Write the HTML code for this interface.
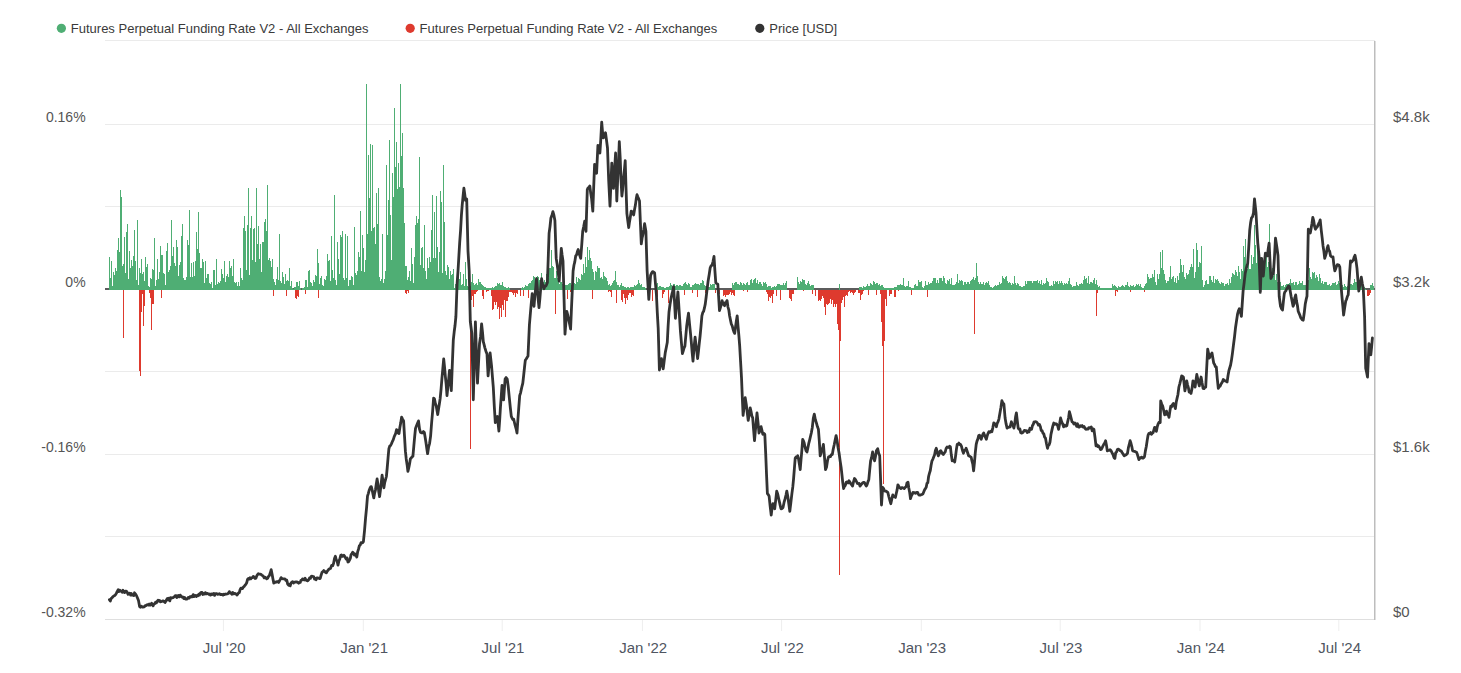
<!DOCTYPE html>
<html><head><meta charset="utf-8"><style>
html,body{margin:0;padding:0;background:#fff;width:1461px;height:673px;overflow:hidden}
svg{display:block}
</style></head><body>
<svg width="1461" height="673" viewBox="0 0 1461 673"><g fill="#ebebeb"><rect x="105" y="40" width="1270" height="1"/><rect x="105" y="124" width="1270" height="1"/><rect x="105" y="206" width="1270" height="1"/><rect x="105" y="371" width="1270" height="1"/><rect x="105" y="454" width="1270" height="1"/><rect x="105" y="536" width="1270" height="1"/><rect x="105" y="619" width="1270" height="1" fill="#dfdfdf"/></g><g fill="#eeeeee"><rect x="222.9" y="620" width="1" height="11"/><rect x="362.8" y="620" width="1" height="11"/><rect x="501.7" y="620" width="1" height="11"/><rect x="641.9" y="620" width="1" height="11"/><rect x="781.1" y="620" width="1" height="11"/><rect x="920.8" y="620" width="1" height="11"/><rect x="1059.7" y="620" width="1" height="11"/><rect x="1199.5" y="620" width="1" height="11"/><rect x="1338.3" y="620" width="1" height="11"/></g><rect x="1374" y="41" width="1.5" height="579" fill="#bdbdbd"/><rect x="105" y="288" width="1270" height="2" fill="#5c5c5c"/><path shape-rendering="crispEdges" fill="#4fae74" d="M109 257h1V290h-1zM110 278h1V290h-1zM111 280h1V290h-1zM111 261h1V290h-1zM112 286h1V290h-1zM113 272h1V290h-1zM114 284h1V290h-1zM114 275h1V290h-1zM115 268h1V290h-1zM116 271h1V290h-1zM117 250h1V290h-1zM118 238h1V290h-1zM118 263h1V290h-1zM119 252h1V290h-1zM120 190h1V290h-1zM121 202h1V290h-1zM121 197h1V290h-1zM122 266h1V290h-1zM123 264h1V290h-1zM124 274h1V290h-1zM124 237h1V290h-1zM125 273h1V290h-1zM126 232h1V290h-1zM127 280h1V290h-1zM127 224h1V290h-1zM128 279h1V290h-1zM129 251h1V290h-1zM130 268h1V290h-1zM131 260h1V290h-1zM131 267h1V290h-1zM132 266h1V290h-1zM133 256h1V290h-1zM134 230h1V290h-1zM134 262h1V290h-1zM135 261h1V290h-1zM136 280h1V290h-1zM137 220h1V290h-1zM137 222h1V290h-1zM138 285h1V290h-1zM139 268h1V290h-1zM140 273h1V290h-1zM140 282h1V290h-1zM141 259h1V290h-1zM142 274h1V290h-1zM143 272h1V290h-1zM143 276h1V290h-1zM144 281h1V290h-1zM145 257h1V290h-1zM146 267h1V290h-1zM147 276h1V290h-1zM147 264h1V290h-1zM148 286h1V290h-1zM149 287h1V290h-1zM150 278h1V290h-1zM150 278h1V290h-1zM151 279h1V290h-1zM152 269h1V290h-1zM153 270h1V290h-1zM153 280h1V290h-1zM154 238h1V290h-1zM155 286h1V290h-1zM156 280h1V290h-1zM156 285h1V290h-1zM157 259h1V290h-1zM158 279h1V290h-1zM159 272h1V290h-1zM160 246h1V290h-1zM160 258h1V290h-1zM161 255h1V290h-1zM162 255h1V290h-1zM163 273h1V290h-1zM163 280h1V290h-1zM164 274h1V290h-1zM165 285h1V290h-1zM166 251h1V290h-1zM166 255h1V290h-1zM167 243h1V290h-1zM168 272h1V290h-1zM169 270h1V290h-1zM169 274h1V290h-1zM170 266h1V290h-1zM171 220h1V290h-1zM172 256h1V290h-1zM173 247h1V290h-1zM173 262h1V290h-1zM174 263h1V290h-1zM175 266h1V290h-1zM176 240h1V290h-1zM176 268h1V290h-1zM177 247h1V290h-1zM178 276h1V290h-1zM179 265h1V290h-1zM179 268h1V290h-1zM180 262h1V290h-1zM181 236h1V290h-1zM182 278h1V290h-1zM182 224h1V290h-1zM183 278h1V290h-1zM184 280h1V290h-1zM185 280h1V290h-1zM185 286h1V290h-1zM186 277h1V290h-1zM187 240h1V290h-1zM188 245h1V290h-1zM189 267h1V290h-1zM189 210h1V290h-1zM190 277h1V290h-1zM191 263h1V290h-1zM192 285h1V290h-1zM192 277h1V290h-1zM193 262h1V290h-1zM194 276h1V290h-1zM195 265h1V290h-1zM195 261h1V290h-1zM196 232h1V290h-1zM197 249h1V290h-1zM198 212h1V290h-1zM198 261h1V290h-1zM199 253h1V290h-1zM200 268h1V290h-1zM201 268h1V290h-1zM202 259h1V290h-1zM202 267h1V290h-1zM203 262h1V290h-1zM204 283h1V290h-1zM205 261h1V290h-1zM205 276h1V290h-1zM206 278h1V290h-1zM207 274h1V290h-1zM208 281h1V290h-1zM208 274h1V290h-1zM209 283h1V290h-1zM210 284h1V290h-1zM211 282h1V290h-1zM211 283h1V290h-1zM212 288h1V290h-1zM213 270h1V290h-1zM214 270h1V290h-1zM215 285h1V290h-1zM215 286h1V290h-1zM216 259h1V290h-1zM217 284h1V290h-1zM218 286h1V290h-1zM218 282h1V290h-1zM219 283h1V290h-1zM220 281h1V290h-1zM221 285h1V290h-1zM221 269h1V290h-1zM222 274h1V290h-1zM223 278h1V290h-1zM224 261h1V290h-1zM224 281h1V290h-1zM225 282h1V290h-1zM226 276h1V290h-1zM227 274h1V290h-1zM227 279h1V290h-1zM228 277h1V290h-1zM229 261h1V290h-1zM230 268h1V290h-1zM231 266h1V290h-1zM231 282h1V290h-1zM232 276h1V290h-1zM233 259h1V290h-1zM234 286h1V290h-1zM234 282h1V290h-1zM235 283h1V290h-1zM236 282h1V290h-1zM237 286h1V290h-1zM237 287h1V290h-1zM238 282h1V290h-1zM239 286h1V290h-1zM240 281h1V290h-1zM240 268h1V290h-1zM241 278h1V290h-1zM242 280h1V290h-1zM243 228h1V290h-1zM244 231h1V290h-1zM244 216h1V290h-1zM245 231h1V290h-1zM246 270h1V290h-1zM247 228h1V290h-1zM247 225h1V290h-1zM248 188h1V290h-1zM249 275h1V290h-1zM250 244h1V290h-1zM250 228h1V290h-1zM251 216h1V290h-1zM252 260h1V290h-1zM253 229h1V290h-1zM253 233h1V290h-1zM254 228h1V290h-1zM255 262h1V290h-1zM256 188h1V290h-1zM256 247h1V290h-1zM257 244h1V290h-1zM258 226h1V290h-1zM259 259h1V290h-1zM260 244h1V290h-1zM260 248h1V290h-1zM261 272h1V290h-1zM262 242h1V290h-1zM263 264h1V290h-1zM263 242h1V290h-1zM264 222h1V290h-1zM265 219h1V290h-1zM266 276h1V290h-1zM266 231h1V290h-1zM267 185h1V290h-1zM268 260h1V290h-1zM269 258h1V290h-1zM269 265h1V290h-1zM270 261h1V290h-1zM271 267h1V290h-1zM272 259h1V290h-1zM273 279h1V290h-1zM273 280h1V290h-1zM274 282h1V290h-1zM275 285h1V290h-1zM276 280h1V290h-1zM276 279h1V290h-1zM277 267h1V290h-1zM278 280h1V290h-1zM279 234h1V290h-1zM279 287h1V290h-1zM280 281h1V290h-1zM281 283h1V290h-1zM282 281h1V290h-1zM282 272h1V290h-1zM283 277h1V290h-1zM284 284h1V290h-1zM285 274h1V290h-1zM286 281h1V290h-1zM286 285h1V290h-1zM287 280h1V290h-1zM288 281h1V290h-1zM289 268h1V290h-1zM289 282h1V290h-1zM290 286h1V290h-1zM291 281h1V290h-1zM292 288h1V290h-1zM292 288h1V290h-1zM293 289h1V290h-1zM294 287h1V290h-1zM295 288h1V290h-1zM295 287h1V290h-1zM296 282h1V290h-1zM297 282h1V290h-1zM298 286h1V290h-1zM298 288h1V290h-1zM299 281h1V290h-1zM300 288h1V290h-1zM302 288h1V290h-1zM302 288h1V290h-1zM303 288h1V290h-1zM304 287h1V290h-1zM305 288h1V290h-1zM305 280h1V290h-1zM306 280h1V290h-1zM307 287h1V290h-1zM308 271h1V290h-1zM308 280h1V290h-1zM309 270h1V290h-1zM310 282h1V290h-1zM311 284h1V290h-1zM311 283h1V290h-1zM312 286h1V290h-1zM313 280h1V290h-1zM314 282h1V290h-1zM315 287h1V290h-1zM315 275h1V290h-1zM316 276h1V290h-1zM317 249h1V290h-1zM318 285h1V290h-1zM318 263h1V290h-1zM319 284h1V290h-1zM320 278h1V290h-1zM321 276h1V290h-1zM321 288h1V290h-1zM322 285h1V290h-1zM323 286h1V290h-1zM324 287h1V290h-1zM324 279h1V290h-1zM325 280h1V290h-1zM326 276h1V290h-1zM327 254h1V290h-1zM327 269h1V290h-1zM328 261h1V290h-1zM329 260h1V290h-1zM330 281h1V290h-1zM331 236h1V290h-1zM331 268h1V290h-1zM332 270h1V290h-1zM333 278h1V290h-1zM334 195h1V290h-1zM334 277h1V290h-1zM335 280h1V290h-1zM336 285h1V290h-1zM337 242h1V290h-1zM337 258h1V290h-1zM338 259h1V290h-1zM339 274h1V290h-1zM340 258h1V290h-1zM340 235h1V290h-1zM341 237h1V290h-1zM342 231h1V290h-1zM343 278h1V290h-1zM344 280h1V290h-1zM344 282h1V290h-1zM345 234h1V290h-1zM346 278h1V290h-1zM347 277h1V290h-1zM347 236h1V290h-1zM348 286h1V290h-1zM349 280h1V290h-1zM350 280h1V290h-1zM350 282h1V290h-1zM351 276h1V290h-1zM352 277h1V290h-1zM353 285h1V290h-1zM353 285h1V290h-1zM354 227h1V290h-1zM355 273h1V290h-1zM356 275h1V290h-1zM357 271h1V290h-1zM357 282h1V290h-1zM358 252h1V290h-1zM359 257h1V290h-1zM360 281h1V290h-1zM360 211h1V290h-1zM361 271h1V290h-1zM362 235h1V290h-1zM363 248h1V290h-1zM363 271h1V290h-1zM364 272h1V290h-1zM365 260h1V290h-1zM366 84h1V290h-1zM366 192h1V290h-1zM367 234h1V290h-1zM368 155h1V290h-1zM369 199h1V290h-1zM369 198h1V290h-1zM370 144h1V290h-1zM371 231h1V290h-1zM372 145h1V290h-1zM373 236h1V290h-1zM373 228h1V290h-1zM374 227h1V290h-1zM375 244h1V290h-1zM376 193h1V290h-1zM376 221h1V290h-1zM377 224h1V290h-1zM378 188h1V290h-1zM379 277h1V290h-1zM379 281h1V290h-1zM380 281h1V290h-1zM381 279h1V290h-1zM382 283h1V290h-1zM382 234h1V290h-1zM383 283h1V290h-1zM384 279h1V290h-1zM385 271h1V290h-1zM386 165h1V290h-1zM386 224h1V290h-1zM387 235h1V290h-1zM388 200h1V290h-1zM389 195h1V290h-1zM389 140h1V290h-1zM390 215h1V290h-1zM391 260h1V290h-1zM392 173h1V290h-1zM392 206h1V290h-1zM393 197h1V290h-1zM394 108h1V290h-1zM395 190h1V290h-1zM395 167h1V290h-1zM396 142h1V290h-1zM397 189h1V290h-1zM398 163h1V290h-1zM399 203h1V290h-1zM399 187h1V290h-1zM400 84h1V290h-1zM401 156h1V290h-1zM402 133h1V290h-1zM402 210h1V290h-1zM403 188h1V290h-1zM404 223h1V290h-1zM405 266h1V290h-1zM405 272h1V290h-1zM406 266h1V290h-1zM407 280h1V290h-1zM408 277h1V290h-1zM408 285h1V290h-1zM409 271h1V290h-1zM410 281h1V290h-1zM411 278h1V290h-1zM411 248h1V290h-1zM412 264h1V290h-1zM413 283h1V290h-1zM414 257h1V290h-1zM415 275h1V290h-1zM415 225h1V290h-1zM416 216h1V290h-1zM417 223h1V290h-1zM418 219h1V290h-1zM418 259h1V290h-1zM419 157h1V290h-1zM420 265h1V290h-1zM421 248h1V290h-1zM421 254h1V290h-1zM422 247h1V290h-1zM423 268h1V290h-1zM424 225h1V290h-1zM424 278h1V290h-1zM425 271h1V290h-1zM426 279h1V290h-1zM427 258h1V290h-1zM428 276h1V290h-1zM428 268h1V290h-1zM429 257h1V290h-1zM430 262h1V290h-1zM431 230h1V290h-1zM431 230h1V290h-1zM432 195h1V290h-1zM433 258h1V290h-1zM434 212h1V290h-1zM434 217h1V290h-1zM435 258h1V290h-1zM436 196h1V290h-1zM437 258h1V290h-1zM437 247h1V290h-1zM438 272h1V290h-1zM439 252h1V290h-1zM440 191h1V290h-1zM440 257h1V290h-1zM441 202h1V290h-1zM442 273h1V290h-1zM443 165h1V290h-1zM444 222h1V290h-1zM444 284h1V290h-1zM445 271h1V290h-1zM446 275h1V290h-1zM447 265h1V290h-1zM447 284h1V290h-1zM448 267h1V290h-1zM449 279h1V290h-1zM450 275h1V290h-1zM450 271h1V290h-1zM451 275h1V290h-1zM452 274h1V290h-1zM453 283h1V290h-1zM453 269h1V290h-1zM454 288h1V290h-1zM455 284h1V290h-1zM456 283h1V290h-1zM457 287h1V290h-1zM457 288h1V290h-1zM458 276h1V290h-1zM459 279h1V290h-1zM460 283h1V290h-1zM460 272h1V290h-1zM461 285h1V290h-1zM462 284h1V290h-1zM463 274h1V290h-1zM463 278h1V290h-1zM464 286h1V290h-1zM465 262h1V290h-1zM466 283h1V290h-1zM466 279h1V290h-1zM467 286h1V290h-1zM468 287h1V290h-1zM469 287h1V290h-1zM470 286h1V290h-1zM470 286h1V290h-1zM471 282h1V290h-1zM472 274h1V290h-1zM473 284h1V290h-1zM473 283h1V290h-1zM474 285h1V290h-1zM475 284h1V290h-1zM476 284h1V290h-1zM476 283h1V290h-1zM477 285h1V290h-1zM478 279h1V290h-1zM479 282h1V290h-1zM479 283h1V290h-1zM480 282h1V290h-1zM481 284h1V290h-1zM482 285h1V290h-1zM482 287h1V290h-1zM483 286h1V290h-1zM484 287h1V290h-1zM485 287h1V290h-1zM486 288h1V290h-1zM486 288h1V290h-1zM487 288h1V290h-1zM488 288h1V290h-1zM489 288h1V290h-1zM489 288h1V290h-1zM490 288h1V290h-1zM491 288h1V290h-1zM492 288h1V290h-1zM492 287h1V290h-1zM493 288h1V290h-1zM494 287h1V290h-1zM495 286h1V290h-1zM495 287h1V290h-1zM496 286h1V290h-1zM497 283h1V290h-1zM498 284h1V290h-1zM499 283h1V290h-1zM499 285h1V290h-1zM500 285h1V290h-1zM501 285h1V290h-1zM502 282h1V290h-1zM502 285h1V290h-1zM503 286h1V290h-1zM504 287h1V290h-1zM505 287h1V290h-1zM505 287h1V290h-1zM506 288h1V290h-1zM507 288h1V290h-1zM508 287h1V290h-1zM508 288h1V290h-1zM509 288h1V290h-1zM521 288h1V290h-1zM522 287h1V290h-1zM523 288h1V290h-1zM524 288h1V290h-1zM524 287h1V290h-1zM525 285h1V290h-1zM526 286h1V290h-1zM527 286h1V290h-1zM528 284h1V290h-1zM528 284h1V290h-1zM529 283h1V290h-1zM530 283h1V290h-1zM531 283h1V290h-1zM531 281h1V290h-1zM532 280h1V290h-1zM533 276h1V290h-1zM534 278h1V290h-1zM534 277h1V290h-1zM535 282h1V290h-1zM536 277h1V290h-1zM537 279h1V290h-1zM537 276h1V290h-1zM538 277h1V290h-1zM539 280h1V290h-1zM540 282h1V290h-1zM541 273h1V290h-1zM541 278h1V290h-1zM542 283h1V290h-1zM543 282h1V290h-1zM544 280h1V290h-1zM544 283h1V290h-1zM545 282h1V290h-1zM546 274h1V290h-1zM547 275h1V290h-1zM547 272h1V290h-1zM548 278h1V290h-1zM549 268h1V290h-1zM550 268h1V290h-1zM550 271h1V290h-1zM551 250h1V290h-1zM552 266h1V290h-1zM553 271h1V290h-1zM553 267h1V290h-1zM554 278h1V290h-1zM555 278h1V290h-1zM556 271h1V290h-1zM557 282h1V290h-1zM557 278h1V290h-1zM558 282h1V290h-1zM559 284h1V290h-1zM560 282h1V290h-1zM560 282h1V290h-1zM561 282h1V290h-1zM562 284h1V290h-1zM563 285h1V290h-1zM563 285h1V290h-1zM564 286h1V290h-1zM565 285h1V290h-1zM566 286h1V290h-1zM566 285h1V290h-1zM567 285h1V290h-1zM568 284h1V290h-1zM569 283h1V290h-1zM570 283h1V290h-1zM570 283h1V290h-1zM571 285h1V290h-1zM572 285h1V290h-1zM573 284h1V290h-1zM573 285h1V290h-1zM574 283h1V290h-1zM575 284h1V290h-1zM576 285h1V290h-1zM576 277h1V290h-1zM577 282h1V290h-1zM578 278h1V290h-1zM579 279h1V290h-1zM579 283h1V290h-1zM580 280h1V290h-1zM581 274h1V290h-1zM582 275h1V290h-1zM583 265h1V290h-1zM583 264h1V290h-1zM584 273h1V290h-1zM585 257h1V290h-1zM586 267h1V290h-1zM586 267h1V290h-1zM587 247h1V290h-1zM588 260h1V290h-1zM589 250h1V290h-1zM589 265h1V290h-1zM590 258h1V290h-1zM591 261h1V290h-1zM592 269h1V290h-1zM592 271h1V290h-1zM593 272h1V290h-1zM594 280h1V290h-1zM595 280h1V290h-1zM595 271h1V290h-1zM596 272h1V290h-1zM597 266h1V290h-1zM598 268h1V290h-1zM599 268h1V290h-1zM599 278h1V290h-1zM600 278h1V290h-1zM601 277h1V290h-1zM602 283h1V290h-1zM602 279h1V290h-1zM603 272h1V290h-1zM604 276h1V290h-1zM605 277h1V290h-1zM605 278h1V290h-1zM606 278h1V290h-1zM607 281h1V290h-1zM608 285h1V290h-1zM608 286h1V290h-1zM609 284h1V290h-1zM610 286h1V290h-1zM611 285h1V290h-1zM612 284h1V290h-1zM612 283h1V290h-1zM613 281h1V290h-1zM614 280h1V290h-1zM615 271h1V290h-1zM615 281h1V290h-1zM616 282h1V290h-1zM617 285h1V290h-1zM618 285h1V290h-1zM618 286h1V290h-1zM619 287h1V290h-1zM620 285h1V290h-1zM621 283h1V290h-1zM621 287h1V290h-1zM622 286h1V290h-1zM623 286h1V290h-1zM624 287h1V290h-1zM625 288h1V290h-1zM625 287h1V290h-1zM626 288h1V290h-1zM627 287h1V290h-1zM628 287h1V290h-1zM628 288h1V290h-1zM629 288h1V290h-1zM630 287h1V290h-1zM631 287h1V290h-1zM631 287h1V290h-1zM632 287h1V290h-1zM633 287h1V290h-1zM634 288h1V290h-1zM634 285h1V290h-1zM635 286h1V290h-1zM636 285h1V290h-1zM637 284h1V290h-1zM637 284h1V290h-1zM638 280h1V290h-1zM639 283h1V290h-1zM640 285h1V290h-1zM641 284h1V290h-1zM641 287h1V290h-1zM642 287h1V290h-1zM643 287h1V290h-1zM644 287h1V290h-1zM644 288h1V290h-1zM645 288h1V290h-1zM657 283h1V290h-1zM658 287h1V290h-1zM659 286h1V290h-1zM660 286h1V290h-1zM660 287h1V290h-1zM661 287h1V290h-1zM662 287h1V290h-1zM663 287h1V290h-1zM663 288h1V290h-1zM664 288h1V290h-1zM665 288h1V290h-1zM666 288h1V290h-1zM666 287h1V290h-1zM667 287h1V290h-1zM668 287h1V290h-1zM669 286h1V290h-1zM670 283h1V290h-1zM670 284h1V290h-1zM671 285h1V290h-1zM672 286h1V290h-1zM673 284h1V290h-1zM673 286h1V290h-1zM674 284h1V290h-1zM675 286h1V290h-1zM676 286h1V290h-1zM676 285h1V290h-1zM677 285h1V290h-1zM678 286h1V290h-1zM679 285h1V290h-1zM679 286h1V290h-1zM680 285h1V290h-1zM681 286h1V290h-1zM682 286h1V290h-1zM683 285h1V290h-1zM683 284h1V290h-1zM684 283h1V290h-1zM685 282h1V290h-1zM686 285h1V290h-1zM686 284h1V290h-1zM687 285h1V290h-1zM688 283h1V290h-1zM689 284h1V290h-1zM689 287h1V290h-1zM690 287h1V290h-1zM691 287h1V290h-1zM692 285h1V290h-1zM692 286h1V290h-1zM693 285h1V290h-1zM694 284h1V290h-1zM695 283h1V290h-1zM696 284h1V290h-1zM696 284h1V290h-1zM697 284h1V290h-1zM698 284h1V290h-1zM699 285h1V290h-1zM699 286h1V290h-1zM700 283h1V290h-1zM701 283h1V290h-1zM702 286h1V290h-1zM702 280h1V290h-1zM703 281h1V290h-1zM704 285h1V290h-1zM705 286h1V290h-1zM705 287h1V290h-1zM706 287h1V290h-1zM707 287h1V290h-1zM708 287h1V290h-1zM708 287h1V290h-1zM709 287h1V290h-1zM710 284h1V290h-1zM711 285h1V290h-1zM712 284h1V290h-1zM712 286h1V290h-1zM713 284h1V290h-1zM714 284h1V290h-1zM732 283h1V290h-1zM733 285h1V290h-1zM734 285h1V290h-1zM734 283h1V290h-1zM735 282h1V290h-1zM736 282h1V290h-1zM737 284h1V290h-1zM737 286h1V290h-1zM738 284h1V290h-1zM739 285h1V290h-1zM740 282h1V290h-1zM741 283h1V290h-1zM741 286h1V290h-1zM742 285h1V290h-1zM743 283h1V290h-1zM744 284h1V290h-1zM744 286h1V290h-1zM745 285h1V290h-1zM746 283h1V290h-1zM747 283h1V290h-1zM747 282h1V290h-1zM748 285h1V290h-1zM749 285h1V290h-1zM750 285h1V290h-1zM750 280h1V290h-1zM751 279h1V290h-1zM752 283h1V290h-1zM753 280h1V290h-1zM754 279h1V290h-1zM754 282h1V290h-1zM755 278h1V290h-1zM756 283h1V290h-1zM757 280h1V290h-1zM757 282h1V290h-1zM758 284h1V290h-1zM759 282h1V290h-1zM760 282h1V290h-1zM760 284h1V290h-1zM761 284h1V290h-1zM762 286h1V290h-1zM763 282h1V290h-1zM763 282h1V290h-1zM764 283h1V290h-1zM765 282h1V290h-1zM766 284h1V290h-1zM767 287h1V290h-1zM767 287h1V290h-1zM768 286h1V290h-1zM769 286h1V290h-1zM770 286h1V290h-1zM770 287h1V290h-1zM771 288h1V290h-1zM772 287h1V290h-1zM773 287h1V290h-1zM773 287h1V290h-1zM774 286h1V290h-1zM775 287h1V290h-1zM776 286h1V290h-1zM776 286h1V290h-1zM777 284h1V290h-1zM778 284h1V290h-1zM779 284h1V290h-1zM779 284h1V290h-1zM780 285h1V290h-1zM781 285h1V290h-1zM782 285h1V290h-1zM783 283h1V290h-1zM783 286h1V290h-1zM784 285h1V290h-1zM785 283h1V290h-1zM786 281h1V290h-1zM797 277h1V290h-1zM798 282h1V290h-1zM799 284h1V290h-1zM799 284h1V290h-1zM800 281h1V290h-1zM801 282h1V290h-1zM802 279h1V290h-1zM802 279h1V290h-1zM803 280h1V290h-1zM804 280h1V290h-1zM805 284h1V290h-1zM805 285h1V290h-1zM806 285h1V290h-1zM807 283h1V290h-1zM808 281h1V290h-1zM809 284h1V290h-1zM809 285h1V290h-1zM810 286h1V290h-1zM811 285h1V290h-1zM812 285h1V290h-1zM812 285h1V290h-1zM813 285h1V290h-1zM839 284h1V290h-1zM859 287h1V290h-1zM860 287h1V290h-1zM860 287h1V290h-1zM861 287h1V290h-1zM862 288h1V290h-1zM863 286h1V290h-1zM863 287h1V290h-1zM864 287h1V290h-1zM865 287h1V290h-1zM866 286h1V290h-1zM867 287h1V290h-1zM867 284h1V290h-1zM868 286h1V290h-1zM869 286h1V290h-1zM870 286h1V290h-1zM870 283h1V290h-1zM871 284h1V290h-1zM872 285h1V290h-1zM873 281h1V290h-1zM873 284h1V290h-1zM874 282h1V290h-1zM875 284h1V290h-1zM876 285h1V290h-1zM876 283h1V290h-1zM877 283h1V290h-1zM878 285h1V290h-1zM879 284h1V290h-1zM880 287h1V290h-1zM880 286h1V290h-1zM881 285h1V290h-1zM882 285h1V290h-1zM883 287h1V290h-1zM883 287h1V290h-1zM884 288h1V290h-1zM885 288h1V290h-1zM886 288h1V290h-1zM886 288h1V290h-1zM887 288h1V290h-1zM888 288h1V290h-1zM889 288h1V290h-1zM889 288h1V290h-1zM890 288h1V290h-1zM891 288h1V290h-1zM892 288h1V290h-1zM892 288h1V290h-1zM893 288h1V290h-1zM894 287h1V290h-1zM895 287h1V290h-1zM896 287h1V290h-1zM896 288h1V290h-1zM897 285h1V290h-1zM898 285h1V290h-1zM899 285h1V290h-1zM899 286h1V290h-1zM900 284h1V290h-1zM901 285h1V290h-1zM902 285h1V290h-1zM902 285h1V290h-1zM903 278h1V290h-1zM904 286h1V290h-1zM905 287h1V290h-1zM905 287h1V290h-1zM906 286h1V290h-1zM907 286h1V290h-1zM908 281h1V290h-1zM909 287h1V290h-1zM909 287h1V290h-1zM910 287h1V290h-1zM911 288h1V290h-1zM912 288h1V290h-1zM912 288h1V290h-1zM913 288h1V290h-1zM914 285h1V290h-1zM915 284h1V290h-1zM915 285h1V290h-1zM916 286h1V290h-1zM917 286h1V290h-1zM918 280h1V290h-1zM918 283h1V290h-1zM919 282h1V290h-1zM920 282h1V290h-1zM921 281h1V290h-1zM922 287h1V290h-1zM922 287h1V290h-1zM923 288h1V290h-1zM924 286h1V290h-1zM925 281h1V290h-1zM925 284h1V290h-1zM926 285h1V290h-1zM927 285h1V290h-1zM928 282h1V290h-1zM928 282h1V290h-1zM929 284h1V290h-1zM930 283h1V290h-1zM931 284h1V290h-1zM931 283h1V290h-1zM932 281h1V290h-1zM933 278h1V290h-1zM934 278h1V290h-1zM934 282h1V290h-1zM935 278h1V290h-1zM936 283h1V290h-1zM937 280h1V290h-1zM938 283h1V290h-1zM938 284h1V290h-1zM939 278h1V290h-1zM940 278h1V290h-1zM941 281h1V290h-1zM941 278h1V290h-1zM942 281h1V290h-1zM943 276h1V290h-1zM944 278h1V290h-1zM944 281h1V290h-1zM945 283h1V290h-1zM946 284h1V290h-1zM947 280h1V290h-1zM947 281h1V290h-1zM948 281h1V290h-1zM949 279h1V290h-1zM950 284h1V290h-1zM951 278h1V290h-1zM951 283h1V290h-1zM952 285h1V290h-1zM953 285h1V290h-1zM954 285h1V290h-1zM954 285h1V290h-1zM955 284h1V290h-1zM956 282h1V290h-1zM957 274h1V290h-1zM957 277h1V290h-1zM958 283h1V290h-1zM959 280h1V290h-1zM960 282h1V290h-1zM960 281h1V290h-1zM961 280h1V290h-1zM962 281h1V290h-1zM963 285h1V290h-1zM963 285h1V290h-1zM964 282h1V290h-1zM965 282h1V290h-1zM966 284h1V290h-1zM967 282h1V290h-1zM967 286h1V290h-1zM968 282h1V290h-1zM969 284h1V290h-1zM970 281h1V290h-1zM970 283h1V290h-1zM971 280h1V290h-1zM972 279h1V290h-1zM973 282h1V290h-1zM973 277h1V290h-1zM974 280h1V290h-1zM975 278h1V290h-1zM976 273h1V290h-1zM976 263h1V290h-1zM977 276h1V290h-1zM978 282h1V290h-1zM979 284h1V290h-1zM980 282h1V290h-1zM980 284h1V290h-1zM981 284h1V290h-1zM982 284h1V290h-1zM983 285h1V290h-1zM983 282h1V290h-1zM984 285h1V290h-1zM985 283h1V290h-1zM986 282h1V290h-1zM986 286h1V290h-1zM987 283h1V290h-1zM988 281h1V290h-1zM989 285h1V290h-1zM989 288h1V290h-1zM990 287h1V290h-1zM991 287h1V290h-1zM992 288h1V290h-1zM993 287h1V290h-1zM993 287h1V290h-1zM994 286h1V290h-1zM995 285h1V290h-1zM996 286h1V290h-1zM996 286h1V290h-1zM997 285h1V290h-1zM998 285h1V290h-1zM999 284h1V290h-1zM999 282h1V290h-1zM1000 284h1V290h-1zM1001 283h1V290h-1zM1002 285h1V290h-1zM1002 276h1V290h-1zM1003 278h1V290h-1zM1004 279h1V290h-1zM1005 281h1V290h-1zM1005 277h1V290h-1zM1006 276h1V290h-1zM1007 281h1V290h-1zM1008 283h1V290h-1zM1009 282h1V290h-1zM1009 285h1V290h-1zM1010 283h1V290h-1zM1011 285h1V290h-1zM1012 284h1V290h-1zM1012 283h1V290h-1zM1013 284h1V290h-1zM1014 276h1V290h-1zM1015 283h1V290h-1zM1015 283h1V290h-1zM1016 285h1V290h-1zM1017 283h1V290h-1zM1018 286h1V290h-1zM1018 284h1V290h-1zM1019 286h1V290h-1zM1020 286h1V290h-1zM1021 287h1V290h-1zM1022 287h1V290h-1zM1022 287h1V290h-1zM1023 286h1V290h-1zM1024 286h1V290h-1zM1025 281h1V290h-1zM1025 281h1V290h-1zM1026 284h1V290h-1zM1027 281h1V290h-1zM1028 281h1V290h-1zM1028 282h1V290h-1zM1029 281h1V290h-1zM1030 281h1V290h-1zM1031 284h1V290h-1zM1031 281h1V290h-1zM1032 283h1V290h-1zM1033 281h1V290h-1zM1034 281h1V290h-1zM1035 281h1V290h-1zM1035 284h1V290h-1zM1036 281h1V290h-1zM1037 280h1V290h-1zM1038 285h1V290h-1zM1038 283h1V290h-1zM1039 281h1V290h-1zM1040 284h1V290h-1zM1041 280h1V290h-1zM1041 282h1V290h-1zM1042 285h1V290h-1zM1043 283h1V290h-1zM1044 284h1V290h-1zM1044 285h1V290h-1zM1045 283h1V290h-1zM1046 278h1V290h-1zM1047 281h1V290h-1zM1047 285h1V290h-1zM1048 282h1V290h-1zM1049 286h1V290h-1zM1050 286h1V290h-1zM1051 285h1V290h-1zM1051 286h1V290h-1zM1052 286h1V290h-1zM1053 281h1V290h-1zM1054 284h1V290h-1zM1054 284h1V290h-1zM1055 281h1V290h-1zM1056 282h1V290h-1zM1057 281h1V290h-1zM1057 281h1V290h-1zM1058 284h1V290h-1zM1059 281h1V290h-1zM1060 285h1V290h-1zM1060 283h1V290h-1zM1061 281h1V290h-1zM1062 283h1V290h-1zM1063 285h1V290h-1zM1064 283h1V290h-1zM1064 284h1V290h-1zM1065 284h1V290h-1zM1066 283h1V290h-1zM1067 284h1V290h-1zM1067 286h1V290h-1zM1068 281h1V290h-1zM1069 278h1V290h-1zM1070 284h1V290h-1zM1070 285h1V290h-1zM1071 285h1V290h-1zM1072 287h1V290h-1zM1073 286h1V290h-1zM1073 286h1V290h-1zM1074 286h1V290h-1zM1075 286h1V290h-1zM1076 282h1V290h-1zM1076 283h1V290h-1zM1077 285h1V290h-1zM1078 286h1V290h-1zM1079 284h1V290h-1zM1080 284h1V290h-1zM1080 286h1V290h-1zM1081 283h1V290h-1zM1082 284h1V290h-1zM1083 282h1V290h-1zM1083 280h1V290h-1zM1084 276h1V290h-1zM1085 279h1V290h-1zM1086 278h1V290h-1zM1086 281h1V290h-1zM1087 283h1V290h-1zM1088 276h1V290h-1zM1089 284h1V290h-1zM1089 284h1V290h-1zM1090 282h1V290h-1zM1091 282h1V290h-1zM1092 283h1V290h-1zM1093 283h1V290h-1zM1093 280h1V290h-1zM1094 278h1V290h-1zM1095 284h1V290h-1zM1096 283h1V290h-1zM1096 280h1V290h-1zM1097 285h1V290h-1zM1098 287h1V290h-1zM1099 286h1V290h-1zM1099 288h1V290h-1zM1100 288h1V290h-1zM1101 288h1V290h-1zM1102 288h1V290h-1zM1102 288h1V290h-1zM1103 288h1V290h-1zM1104 288h1V290h-1zM1105 288h1V290h-1zM1106 288h1V290h-1zM1106 288h1V290h-1zM1107 288h1V290h-1zM1108 288h1V290h-1zM1109 288h1V290h-1zM1109 288h1V290h-1zM1110 288h1V290h-1zM1111 288h1V290h-1zM1112 284h1V290h-1zM1112 287h1V290h-1zM1113 286h1V290h-1zM1114 285h1V290h-1zM1115 286h1V290h-1zM1115 287h1V290h-1zM1116 287h1V290h-1zM1117 288h1V290h-1zM1118 287h1V290h-1zM1118 286h1V290h-1zM1119 287h1V290h-1zM1120 287h1V290h-1zM1121 286h1V290h-1zM1122 287h1V290h-1zM1122 285h1V290h-1zM1123 286h1V290h-1zM1124 287h1V290h-1zM1125 285h1V290h-1zM1125 287h1V290h-1zM1126 285h1V290h-1zM1127 282h1V290h-1zM1128 286h1V290h-1zM1128 286h1V290h-1zM1129 287h1V290h-1zM1130 285h1V290h-1zM1131 286h1V290h-1zM1131 287h1V290h-1zM1132 286h1V290h-1zM1133 285h1V290h-1zM1134 287h1V290h-1zM1135 287h1V290h-1zM1135 286h1V290h-1zM1136 284h1V290h-1zM1137 285h1V290h-1zM1138 285h1V290h-1zM1138 284h1V290h-1zM1139 286h1V290h-1zM1140 284h1V290h-1zM1141 287h1V290h-1zM1141 288h1V290h-1zM1142 288h1V290h-1zM1143 288h1V290h-1zM1144 287h1V290h-1zM1144 286h1V290h-1zM1145 284h1V290h-1zM1146 283h1V290h-1zM1147 285h1V290h-1zM1147 274h1V290h-1zM1148 277h1V290h-1zM1149 279h1V290h-1zM1150 278h1V290h-1zM1151 280h1V290h-1zM1151 278h1V290h-1zM1152 274h1V290h-1zM1153 277h1V290h-1zM1154 270h1V290h-1zM1154 283h1V290h-1zM1155 282h1V290h-1zM1156 285h1V290h-1zM1157 283h1V290h-1zM1157 274h1V290h-1zM1158 279h1V290h-1zM1159 274h1V290h-1zM1160 252h1V290h-1zM1160 266h1V290h-1zM1161 268h1V290h-1zM1162 250h1V290h-1zM1163 270h1V290h-1zM1164 274h1V290h-1zM1164 278h1V290h-1zM1165 280h1V290h-1zM1166 283h1V290h-1zM1167 281h1V290h-1zM1167 281h1V290h-1zM1168 281h1V290h-1zM1169 277h1V290h-1zM1170 278h1V290h-1zM1170 266h1V290h-1zM1171 279h1V290h-1zM1172 277h1V290h-1zM1173 276h1V290h-1zM1173 278h1V290h-1zM1174 282h1V290h-1zM1175 278h1V290h-1zM1176 283h1V290h-1zM1177 282h1V290h-1zM1177 276h1V290h-1zM1178 280h1V290h-1zM1179 273h1V290h-1zM1180 269h1V290h-1zM1180 259h1V290h-1zM1181 265h1V290h-1zM1182 272h1V290h-1zM1183 265h1V290h-1zM1183 266h1V290h-1zM1184 277h1V290h-1zM1185 279h1V290h-1zM1186 274h1V290h-1zM1186 273h1V290h-1zM1187 275h1V290h-1zM1188 274h1V290h-1zM1189 274h1V290h-1zM1189 270h1V290h-1zM1190 267h1V290h-1zM1191 264h1V290h-1zM1192 267h1V290h-1zM1193 249h1V290h-1zM1193 272h1V290h-1zM1194 278h1V290h-1zM1195 272h1V290h-1zM1196 243h1V290h-1zM1196 250h1V290h-1zM1197 250h1V290h-1zM1198 267h1V290h-1zM1199 262h1V290h-1zM1199 262h1V290h-1zM1200 263h1V290h-1zM1201 246h1V290h-1zM1202 280h1V290h-1zM1202 286h1V290h-1zM1203 287h1V290h-1zM1204 285h1V290h-1zM1205 281h1V290h-1zM1206 284h1V290h-1zM1206 280h1V290h-1zM1207 284h1V290h-1zM1208 284h1V290h-1zM1209 276h1V290h-1zM1209 282h1V290h-1zM1210 276h1V290h-1zM1211 280h1V290h-1zM1212 282h1V290h-1zM1212 283h1V290h-1zM1213 276h1V290h-1zM1214 283h1V290h-1zM1215 279h1V290h-1zM1215 280h1V290h-1zM1216 280h1V290h-1zM1217 279h1V290h-1zM1218 281h1V290h-1zM1219 285h1V290h-1zM1219 283h1V290h-1zM1220 284h1V290h-1zM1221 282h1V290h-1zM1222 283h1V290h-1zM1222 283h1V290h-1zM1223 283h1V290h-1zM1224 286h1V290h-1zM1225 284h1V290h-1zM1225 284h1V290h-1zM1226 284h1V290h-1zM1227 283h1V290h-1zM1228 286h1V290h-1zM1228 285h1V290h-1zM1229 279h1V290h-1zM1230 283h1V290h-1zM1231 283h1V290h-1zM1231 277h1V290h-1zM1232 273h1V290h-1zM1233 274h1V290h-1zM1234 275h1V290h-1zM1235 270h1V290h-1zM1235 271h1V290h-1zM1236 272h1V290h-1zM1237 276h1V290h-1zM1238 266h1V290h-1zM1238 279h1V290h-1zM1239 272h1V290h-1zM1240 279h1V290h-1zM1241 269h1V290h-1zM1241 274h1V290h-1zM1242 271h1V290h-1zM1243 246h1V290h-1zM1244 257h1V290h-1zM1244 266h1V290h-1zM1245 239h1V290h-1zM1246 267h1V290h-1zM1247 269h1V290h-1zM1248 262h1V290h-1zM1248 264h1V290h-1zM1249 269h1V290h-1zM1250 269h1V290h-1zM1251 255h1V290h-1zM1251 256h1V290h-1zM1252 264h1V290h-1zM1253 257h1V290h-1zM1254 250h1V290h-1zM1254 225h1V290h-1zM1255 245h1V290h-1zM1256 263h1V290h-1zM1257 254h1V290h-1zM1257 243h1V290h-1zM1258 264h1V290h-1zM1259 260h1V290h-1zM1260 269h1V290h-1zM1260 265h1V290h-1zM1261 264h1V290h-1zM1262 269h1V290h-1zM1263 273h1V290h-1zM1264 263h1V290h-1zM1264 274h1V290h-1zM1265 258h1V290h-1zM1266 256h1V290h-1zM1267 267h1V290h-1zM1267 269h1V290h-1zM1268 262h1V290h-1zM1269 224h1V290h-1zM1270 255h1V290h-1zM1270 256h1V290h-1zM1271 276h1V290h-1zM1272 268h1V290h-1zM1273 276h1V290h-1zM1273 276h1V290h-1zM1274 274h1V290h-1zM1275 280h1V290h-1zM1276 274h1V290h-1zM1277 282h1V290h-1zM1277 283h1V290h-1zM1278 281h1V290h-1zM1279 284h1V290h-1zM1280 282h1V290h-1zM1280 283h1V290h-1zM1281 286h1V290h-1zM1282 286h1V290h-1zM1283 285h1V290h-1zM1283 285h1V290h-1zM1284 287h1V290h-1zM1285 285h1V290h-1zM1286 284h1V290h-1zM1286 287h1V290h-1zM1287 284h1V290h-1zM1288 284h1V290h-1zM1289 283h1V290h-1zM1290 283h1V290h-1zM1290 279h1V290h-1zM1291 283h1V290h-1zM1292 283h1V290h-1zM1293 284h1V290h-1zM1293 282h1V290h-1zM1294 285h1V290h-1zM1295 282h1V290h-1zM1296 282h1V290h-1zM1296 285h1V290h-1zM1297 285h1V290h-1zM1298 284h1V290h-1zM1299 281h1V290h-1zM1299 281h1V290h-1zM1300 283h1V290h-1zM1301 283h1V290h-1zM1302 281h1V290h-1zM1302 281h1V290h-1zM1303 285h1V290h-1zM1304 285h1V290h-1zM1305 285h1V290h-1zM1306 284h1V290h-1zM1306 283h1V290h-1zM1307 281h1V290h-1zM1308 280h1V290h-1zM1309 268h1V290h-1zM1309 276h1V290h-1zM1310 277h1V290h-1zM1311 279h1V290h-1zM1312 272h1V290h-1zM1312 274h1V290h-1zM1313 273h1V290h-1zM1314 272h1V290h-1zM1315 280h1V290h-1zM1315 278h1V290h-1zM1316 275h1V290h-1zM1317 277h1V290h-1zM1318 281h1V290h-1zM1319 278h1V290h-1zM1319 274h1V290h-1zM1320 278h1V290h-1zM1321 283h1V290h-1zM1322 284h1V290h-1zM1322 281h1V290h-1zM1323 284h1V290h-1zM1324 282h1V290h-1zM1325 282h1V290h-1zM1325 285h1V290h-1zM1326 282h1V290h-1zM1327 285h1V290h-1zM1328 285h1V290h-1zM1328 285h1V290h-1zM1329 284h1V290h-1zM1330 286h1V290h-1zM1331 285h1V290h-1zM1332 283h1V290h-1zM1332 286h1V290h-1zM1333 283h1V290h-1zM1334 283h1V290h-1zM1335 286h1V290h-1zM1335 282h1V290h-1zM1336 285h1V290h-1zM1337 284h1V290h-1zM1338 281h1V290h-1zM1338 283h1V290h-1zM1339 283h1V290h-1zM1340 284h1V290h-1zM1341 285h1V290h-1zM1341 286h1V290h-1zM1342 285h1V290h-1zM1343 287h1V290h-1zM1344 284h1V290h-1zM1344 286h1V290h-1zM1345 286h1V290h-1zM1346 287h1V290h-1zM1347 286h1V290h-1zM1348 284h1V290h-1zM1348 285h1V290h-1zM1349 283h1V290h-1zM1350 284h1V290h-1zM1351 284h1V290h-1zM1351 284h1V290h-1zM1352 285h1V290h-1zM1353 283h1V290h-1zM1354 284h1V290h-1zM1354 279h1V290h-1zM1355 282h1V290h-1zM1356 282h1V290h-1zM1357 284h1V290h-1zM1357 284h1V290h-1zM1358 283h1V290h-1zM1359 283h1V290h-1zM1360 286h1V290h-1zM1361 287h1V290h-1zM1361 286h1V290h-1zM1362 286h1V290h-1zM1363 287h1V290h-1zM1364 287h1V290h-1zM1364 287h1V290h-1zM1365 289h1V290h-1zM1370 289h1V290h-1zM1370 285h1V290h-1zM1371 285h1V290h-1zM1372 283h1V290h-1zM1373 286h1V290h-1z"/><path shape-rendering="crispEdges" fill="#de3a2e" d="M123 290h1V338h-1zM139 290h1V371h-1zM140 290h1V376h-1zM140 290h1V311h-1zM141 290h1V312h-1zM142 290h1V294h-1zM143 290h1V326h-1zM143 290h1V306h-1zM144 290h1V306h-1zM149 290h1V293h-1zM150 290h1V298h-1zM150 290h1V294h-1zM151 290h1V330h-1zM152 290h1V304h-1zM153 290h1V303h-1zM153 290h1V304h-1zM161 290h1V298h-1zM273 290h1V296h-1zM286 290h1V296h-1zM295 290h1V298h-1zM296 290h1V299h-1zM297 290h1V296h-1zM298 290h1V297h-1zM305 290h1V294h-1zM318 290h1V298h-1zM405 290h1V293h-1zM405 290h1V291h-1zM406 290h1V294h-1zM407 290h1V291h-1zM408 290h1V292h-1zM408 290h1V293h-1zM456 290h1V293h-1zM469 290h1V296h-1zM470 290h1V449h-1zM470 290h1V339h-1zM471 290h1V300h-1zM472 290h1V296h-1zM473 290h1V300h-1zM473 290h1V307h-1zM474 290h1V294h-1zM475 290h1V294h-1zM476 290h1V292h-1zM476 290h1V292h-1zM477 290h1V291h-1zM482 290h1V296h-1zM482 290h1V295h-1zM483 290h1V299h-1zM486 290h1V292h-1zM487 290h1V291h-1zM488 290h1V291h-1zM491 290h1V296h-1zM492 290h1V310h-1zM492 290h1V305h-1zM493 290h1V309h-1zM494 290h1V302h-1zM495 290h1V305h-1zM495 290h1V302h-1zM496 290h1V302h-1zM497 290h1V309h-1zM498 290h1V307h-1zM499 290h1V319h-1zM499 290h1V310h-1zM500 290h1V308h-1zM501 290h1V317h-1zM502 290h1V305h-1zM502 290h1V305h-1zM503 290h1V310h-1zM504 290h1V300h-1zM505 290h1V301h-1zM505 290h1V317h-1zM506 290h1V301h-1zM507 290h1V301h-1zM508 290h1V297h-1zM508 290h1V296h-1zM509 290h1V292h-1zM510 290h1V292h-1zM511 290h1V292h-1zM512 290h1V291h-1zM512 290h1V293h-1zM513 290h1V295h-1zM514 290h1V293h-1zM515 290h1V296h-1zM515 290h1V297h-1zM516 290h1V293h-1zM517 290h1V294h-1zM520 290h1V296h-1zM523 290h1V296h-1zM528 290h1V295h-1zM528 290h1V298h-1zM555 290h1V314h-1zM567 290h1V299h-1zM570 290h1V292h-1zM592 290h1V299h-1zM608 290h1V292h-1zM609 290h1V291h-1zM610 290h1V292h-1zM611 290h1V297h-1zM616 290h1V303h-1zM621 290h1V300h-1zM621 290h1V297h-1zM622 290h1V302h-1zM623 290h1V294h-1zM624 290h1V298h-1zM625 290h1V297h-1zM625 290h1V304h-1zM626 290h1V298h-1zM627 290h1V300h-1zM628 290h1V295h-1zM628 290h1V295h-1zM629 290h1V293h-1zM630 290h1V293h-1zM631 290h1V297h-1zM631 290h1V294h-1zM632 290h1V295h-1zM633 290h1V296h-1zM652 290h1V301h-1zM657 290h1V297h-1zM662 290h1V298h-1zM663 290h1V294h-1zM663 290h1V292h-1zM664 290h1V292h-1zM668 290h1V303h-1zM684 290h1V295h-1zM692 290h1V293h-1zM697 290h1V297h-1zM705 290h1V293h-1zM715 290h1V293h-1zM719 290h1V294h-1zM723 290h1V296h-1zM724 290h1V295h-1zM725 290h1V293h-1zM725 290h1V297h-1zM726 290h1V295h-1zM727 290h1V295h-1zM728 290h1V294h-1zM728 290h1V295h-1zM729 290h1V294h-1zM730 290h1V292h-1zM731 290h1V294h-1zM731 290h1V295h-1zM732 290h1V293h-1zM733 290h1V295h-1zM734 290h1V296h-1zM743 290h1V291h-1zM747 290h1V292h-1zM766 290h1V292h-1zM767 290h1V294h-1zM767 290h1V294h-1zM768 290h1V301h-1zM769 290h1V297h-1zM770 290h1V298h-1zM770 290h1V297h-1zM771 290h1V296h-1zM772 290h1V303h-1zM773 290h1V294h-1zM776 290h1V296h-1zM780 290h1V300h-1zM789 290h1V298h-1zM790 290h1V299h-1zM791 290h1V301h-1zM792 290h1V294h-1zM792 290h1V294h-1zM793 290h1V294h-1zM803 290h1V291h-1zM812 290h1V294h-1zM815 290h1V296h-1zM818 290h1V301h-1zM819 290h1V300h-1zM820 290h1V301h-1zM821 290h1V299h-1zM821 290h1V299h-1zM822 290h1V296h-1zM823 290h1V298h-1zM824 290h1V307h-1zM825 290h1V303h-1zM825 290h1V315h-1zM826 290h1V304h-1zM827 290h1V305h-1zM828 290h1V304h-1zM828 290h1V297h-1zM829 290h1V303h-1zM830 290h1V299h-1zM831 290h1V300h-1zM831 290h1V304h-1zM832 290h1V300h-1zM833 290h1V307h-1zM834 290h1V304h-1zM834 290h1V304h-1zM835 290h1V307h-1zM836 290h1V304h-1zM837 290h1V324h-1zM838 290h1V315h-1zM838 290h1V330h-1zM839 290h1V575h-1zM840 290h1V341h-1zM841 290h1V303h-1zM841 290h1V298h-1zM842 290h1V300h-1zM843 290h1V297h-1zM844 290h1V307h-1zM844 290h1V294h-1zM845 290h1V296h-1zM846 290h1V295h-1zM847 290h1V296h-1zM847 290h1V292h-1zM848 290h1V292h-1zM849 290h1V291h-1zM850 290h1V291h-1zM850 290h1V293h-1zM851 290h1V292h-1zM852 290h1V293h-1zM853 290h1V295h-1zM854 290h1V293h-1zM854 290h1V292h-1zM855 290h1V292h-1zM858 290h1V293h-1zM859 290h1V293h-1zM860 290h1V300h-1zM860 290h1V296h-1zM861 290h1V295h-1zM862 290h1V294h-1zM863 290h1V291h-1zM863 290h1V291h-1zM868 290h1V295h-1zM876 290h1V295h-1zM880 290h1V294h-1zM881 290h1V322h-1zM882 290h1V346h-1zM883 290h1V376h-1zM883 290h1V484h-1zM884 290h1V341h-1zM885 290h1V299h-1zM886 290h1V306h-1zM889 290h1V296h-1zM889 290h1V292h-1zM890 290h1V294h-1zM891 290h1V294h-1zM894 290h1V297h-1zM895 290h1V297h-1zM898 290h1V291h-1zM911 290h1V295h-1zM927 290h1V297h-1zM974 290h1V334h-1zM1096 290h1V316h-1zM1096 290h1V297h-1zM1097 290h1V293h-1zM1115 290h1V296h-1zM1116 290h1V291h-1zM1117 290h1V292h-1zM1130 290h1V292h-1zM1144 290h1V292h-1zM1367 290h1V294h-1zM1367 290h1V296h-1zM1368 290h1V296h-1zM1369 290h1V295h-1zM1370 290h1V293h-1z"/><polyline fill="none" stroke="#333333" stroke-width="2.8" stroke-linejoin="round" stroke-linecap="round" points="109.4,599.7 110.3,601.0 111.1,598.6 112.0,597.8 112.9,596.8 113.8,595.9 114.7,595.7 115.6,594.6 116.5,593.0 117.3,591.4 118.2,589.8 119.0,591.5 119.8,590.2 120.6,591.2 121.4,591.1 122.2,592.3 123.0,590.3 123.8,591.9 124.6,592.6 125.4,591.1 126.3,591.1 127.2,592.4 128.1,594.3 128.9,593.6 129.7,593.1 130.5,595.1 131.3,593.5 132.1,595.1 132.9,595.2 133.7,595.6 134.5,592.8 135.3,593.8 136.4,595.5 137.4,597.8 138.5,600.6 139.6,606.4 140.4,607.2 141.2,606.2 142.0,606.8 142.8,607.2 143.6,606.8 144.4,606.8 145.2,605.6 146.0,605.5 146.8,605.0 147.6,604.6 148.4,605.1 149.2,604.1 150.0,605.1 150.8,605.0 151.6,603.2 152.4,604.1 153.2,605.8 154.0,604.0 154.8,603.7 155.6,602.2 156.4,602.8 157.2,601.3 158.0,600.2 158.8,601.0 159.6,600.5 160.3,601.8 161.1,601.6 161.9,601.4 162.7,600.8 163.4,600.8 164.2,601.8 165.0,602.5 165.8,601.2 166.6,599.8 167.4,598.4 168.2,599.7 169.0,598.2 169.8,600.9 170.6,597.6 171.4,598.1 172.2,597.8 173.0,597.7 173.7,597.1 174.5,596.8 175.3,595.6 176.1,595.6 176.8,597.5 177.6,595.9 178.5,595.5 179.4,596.9 180.2,595.1 181.1,596.4 182.0,597.0 182.9,597.0 183.8,598.5 184.7,597.5 185.6,599.1 186.5,599.2 187.4,598.7 188.2,597.5 189.1,598.1 190.0,596.6 190.9,597.0 191.7,596.3 192.4,596.8 193.2,594.6 194.0,596.6 194.8,595.8 195.5,595.4 196.3,596.5 197.1,595.5 197.9,595.8 198.7,594.3 199.5,595.0 200.3,593.3 201.1,592.4 202.0,592.3 202.8,594.5 203.7,593.6 204.5,594.1 205.3,592.6 206.2,593.9 207.0,593.3 207.9,593.7 208.8,594.3 209.7,594.0 210.5,595.1 211.4,593.9 212.3,594.6 213.1,593.8 213.8,593.4 214.6,595.4 215.4,593.9 216.2,593.6 216.9,593.7 217.7,594.4 218.6,594.2 219.5,593.6 220.3,594.5 221.2,594.4 222.1,594.5 223.0,595.1 223.8,594.1 224.5,594.6 225.3,594.0 226.1,594.2 226.9,594.0 227.6,593.8 228.4,593.3 229.3,591.6 230.2,593.0 231.1,592.9 231.9,594.3 232.8,592.5 233.7,593.8 234.5,593.3 235.3,593.8 236.1,593.8 236.9,595.0 237.7,594.3 238.5,592.8 239.3,592.7 240.1,589.6 240.9,588.1 241.7,588.4 242.5,588.6 243.3,587.1 244.2,586.4 245.0,585.3 245.8,584.4 246.7,582.8 247.5,579.5 248.4,578.5 249.2,579.1 250.0,577.8 250.8,578.8 251.6,577.9 252.4,577.7 253.3,576.4 254.2,577.2 255.1,578.5 255.9,578.2 256.7,576.0 257.5,574.6 258.3,573.7 259.2,574.2 260.1,574.1 260.9,574.3 261.8,575.1 262.6,575.7 263.4,576.3 264.2,577.9 265.0,577.2 265.8,577.7 266.7,578.8 267.6,578.3 268.5,576.4 269.4,575.5 270.3,572.8 271.2,569.7 272.1,574.3 272.9,578.7 273.8,583.1 274.6,582.7 275.4,582.0 276.3,582.2 277.1,581.5 277.9,581.7 278.7,582.4 279.5,580.8 280.3,579.4 281.1,577.6 281.9,578.5 282.7,578.8 283.5,578.9 284.3,578.8 285.1,579.1 285.9,580.4 286.8,580.2 287.7,584.1 288.6,585.2 289.4,584.4 290.2,585.9 291.0,583.1 291.8,582.3 292.6,581.7 293.5,583.0 294.4,582.1 295.2,582.2 296.1,581.9 297.0,581.9 297.9,582.5 298.7,583.2 299.4,582.3 300.2,582.4 301.0,580.3 301.8,580.1 302.5,578.9 303.3,579.1 304.2,580.0 305.1,578.3 306.0,580.0 306.8,580.5 307.7,580.9 308.6,579.9 309.5,578.0 310.4,578.4 311.3,576.4 312.1,576.2 312.9,576.6 313.7,576.6 314.5,579.0 315.3,578.5 316.1,579.8 316.9,578.0 317.7,577.9 318.5,578.2 319.3,578.5 320.2,578.5 321.1,575.2 322.0,572.4 322.9,571.7 323.8,570.5 324.6,571.2 325.5,572.5 326.4,572.8 327.3,571.1 328.1,570.2 328.9,569.2 329.7,568.7 330.5,568.4 331.6,565.5 332.7,565.7 333.6,563.3 334.5,558.6 335.4,556.3 336.3,560.1 337.1,560.9 338.0,565.2 338.9,561.0 339.8,559.0 340.7,555.5 341.5,555.0 342.3,556.4 343.1,556.0 343.9,555.2 344.7,556.3 345.5,557.9 346.3,559.1 347.1,558.0 347.9,562.1 348.7,561.7 349.5,560.2 350.3,558.5 351.1,554.6 351.9,553.6 352.7,552.3 353.5,553.0 354.3,555.1 355.2,554.0 356.0,555.4 356.8,557.1 357.7,551.6 358.5,549.2 359.4,545.6 360.2,545.1 361.0,542.7 361.8,542.7 362.6,542.8 363.4,541.6 364.5,530.9 365.6,517.6 366.6,507.4 367.5,496.2 368.3,493.6 369.1,490.6 369.9,488.4 370.7,486.8 371.3,486.6 372.1,489.8 373.0,494.3 373.8,497.9 374.6,493.1 375.5,489.8 376.3,484.0 377.1,479.0 377.9,484.0 378.8,492.0 379.6,496.7 380.4,490.3 381.3,482.4 382.1,475.2 383.0,480.9 383.9,487.8 384.7,482.5 385.6,479.4 386.4,476.5 387.2,468.0 388.1,457.3 388.9,448.7 389.8,445.9 390.6,445.5 391.5,443.6 392.3,441.7 393.2,439.9 394.0,437.3 394.8,435.3 395.7,433.4 396.5,429.7 397.3,430.3 398.2,433.0 399.0,433.5 399.9,427.2 400.7,423.1 401.6,417.1 402.6,419.1 403.6,420.9 404.5,436.2 405.4,451.2 406.2,458.7 407.1,464.7 407.9,471.4 408.7,468.1 409.6,463.7 410.4,458.8 411.2,458.1 412.1,456.7 412.9,456.3 413.8,446.4 414.6,437.3 415.5,428.5 416.5,425.8 417.5,423.4 418.5,420.9 419.5,429.0 420.5,432.3 421.4,432.8 422.4,432.9 423.4,431.6 424.3,432.3 425.1,437.1 426.0,442.7 426.8,448.5 427.6,453.7 428.6,447.0 429.6,443.3 430.6,436.1 431.6,423.0 432.6,411.7 433.6,398.2 434.5,398.9 435.3,403.3 436.2,405.8 437.7,414.6 438.5,409.4 439.4,403.8 440.2,398.2 441.1,388.9 441.9,378.8 442.8,368.9 443.7,359.0 444.5,366.7 445.4,376.8 446.2,384.7 447.0,395.7 447.8,387.8 448.7,379.1 449.5,370.4 450.4,380.3 451.3,390.6 452.3,364.7 453.3,340.1 454.2,331.8 455.0,325.8 455.9,316.5 457.1,283.6 458.0,271.1 458.9,255.9 459.7,242.4 460.6,230.0 461.4,215.5 462.2,205.1 463.1,195.8 463.9,188.2 464.7,193.9 465.5,200.3 466.7,199.0 468.0,250.8 469.2,271.0 470.3,321.5 471.8,333.3 473.3,399.8 474.4,360.1 475.4,321.8 476.4,352.1 477.5,383.2 478.5,363.6 479.5,343.7 480.6,336.2 481.6,323.9 482.5,332.2 483.3,341.6 484.1,344.7 484.9,347.8 485.9,351.2 487.0,354.1 488.1,375.9 489.1,364.4 490.1,353.0 491.6,366.5 492.5,377.6 493.3,387.3 494.3,406.4 495.3,422.7 496.4,418.6 497.4,416.4 498.9,431.0 499.7,419.7 500.4,407.9 501.2,397.0 502.0,385.3 502.8,391.3 503.6,399.8 505.1,379.0 506.1,377.6 507.2,379.0 508.2,386.5 509.3,397.7 510.3,407.5 511.3,416.4 512.1,418.1 512.9,419.6 513.7,419.2 514.5,422.7 515.3,425.9 516.2,429.0 517.0,433.1 517.9,419.5 518.8,407.4 519.7,395.7 520.5,393.1 521.2,389.9 522.0,386.3 522.8,383.2 523.6,376.0 524.5,367.5 525.3,360.3 526.2,359.0 527.1,357.5 528.0,356.1 529.4,325.0 530.2,315.5 531.1,305.2 532.2,293.7 533.1,300.0 534.0,306.4 534.8,297.0 535.7,287.8 536.5,278.6 537.3,287.8 538.2,299.7 539.0,307.6 539.9,298.3 540.7,288.6 541.6,278.6 542.4,283.8 543.3,286.5 544.1,288.7 544.9,285.9 545.8,286.1 546.6,284.6 547.4,282.4 548.2,259.3 549.1,233.1 550.0,226.6 550.9,218.0 551.9,215.5 552.9,211.7 553.9,215.2 554.9,220.5 556.2,258.4 557.1,264.0 558.0,271.0 559.2,281.1 560.2,264.9 561.3,248.3 562.1,255.0 563.0,260.9 564.0,296.7 565.0,334.1 565.9,322.4 566.8,311.4 567.7,314.9 568.6,319.0 569.6,324.1 570.6,329.1 571.4,310.0 572.3,290.1 573.1,271.0 574.0,265.0 574.8,261.9 575.7,255.9 576.5,255.0 577.4,251.5 578.2,249.5 579.0,253.3 579.9,255.8 580.7,258.4 581.7,245.4 582.7,231.3 583.7,226.6 584.7,221.2 586.0,231.3 587.3,189.6 588.1,187.8 589.0,187.6 589.8,185.9 590.7,193.0 591.6,198.5 592.8,211.1 593.7,187.0 594.6,164.4 595.6,170.4 596.6,173.2 597.9,145.5 598.9,150.9 599.9,153.0 600.8,139.1 601.7,122.2 602.5,131.6 603.4,137.9 604.5,135.9 605.5,132.8 606.5,140.1 607.5,148.0 608.7,180.8 610.0,206.1 610.9,184.1 611.8,163.1 612.6,175.1 613.5,188.4 614.5,170.8 615.6,153.0 616.8,201.0 617.6,181.2 618.5,162.0 619.3,141.7 620.2,158.2 621.0,179.7 621.9,196.0 622.7,189.0 623.5,178.3 624.4,170.0 625.2,160.6 626.0,187.5 626.9,213.6 627.8,220.8 628.7,227.5 629.5,221.9 630.4,216.5 631.2,211.1 632.0,211.7 632.9,213.8 633.7,214.9 634.5,209.8 635.4,205.1 636.2,199.1 637.0,194.7 637.8,196.8 638.7,198.9 639.5,201.0 640.4,222.9 641.3,243.9 642.1,238.0 643.0,234.1 643.8,229.5 644.6,223.7 645.9,231.3 647.1,270.3 648.0,285.3 648.8,299.3 649.7,287.1 650.6,275.4 651.6,273.1 652.6,271.6 653.6,272.0 654.6,272.8 655.5,284.1 656.4,294.3 657.3,312.6 658.2,328.4 659.4,370.0 660.5,364.2 661.5,358.7 662.4,363.2 663.2,368.8 664.2,360.9 665.3,352.4 666.3,347.5 667.3,342.3 668.1,326.4 669.0,312.0 670.0,304.5 671.1,298.1 671.9,294.2 672.8,291.0 673.6,286.7 674.5,301.5 675.4,318.3 676.2,308.7 677.1,301.0 677.9,291.8 678.7,303.9 679.6,318.0 680.4,330.9 681.4,342.5 682.4,353.6 683.2,351.0 684.1,347.8 684.9,346.1 685.8,336.0 686.7,325.9 687.6,319.3 688.5,313.2 689.5,323.6 690.5,333.4 691.3,342.0 692.2,352.8 693.0,361.2 694.0,347.9 695.1,337.2 695.9,344.2 696.8,351.5 697.6,358.7 698.4,351.9 699.3,343.1 700.1,336.0 701.0,326.3 701.9,315.8 702.7,312.8 703.6,311.3 704.4,308.2 705.3,303.9 706.2,296.8 707.2,288.3 708.2,280.4 709.2,274.5 710.2,267.8 711.1,265.8 712.0,265.3 713.0,261.6 714.0,256.4 714.9,270.6 715.8,282.9 716.8,283.6 717.8,284.2 718.6,296.5 719.5,310.7 720.4,307.7 721.2,304.9 722.1,300.6 722.9,303.2 723.8,304.7 724.6,305.7 725.4,302.5 726.3,301.8 727.1,300.6 727.9,306.8 728.8,309.8 729.6,315.8 730.5,320.1 731.3,324.0 732.2,325.9 733.0,329.0 733.9,331.8 734.7,333.4 735.5,327.3 736.4,320.7 737.2,315.8 738.0,325.8 738.9,335.8 739.7,346.1 740.6,361.8 741.5,377.6 742.3,397.1 743.1,415.4 744.2,406.4 745.2,397.7 746.4,405.3 747.3,413.0 748.2,420.4 749.2,414.4 750.2,407.8 751.0,411.2 751.9,416.0 752.7,417.9 753.6,429.6 754.5,440.6 755.3,431.4 756.2,421.9 757.0,412.8 758.0,422.4 759.0,433.0 760.0,430.9 761.1,426.7 762.0,430.6 762.8,434.3 763.8,433.4 764.8,434.3 765.7,453.6 766.5,473.7 767.4,493.6 768.2,494.5 769.1,496.2 770.2,506.5 771.2,515.1 772.0,508.5 772.9,503.7 773.8,506.6 774.7,508.8 775.7,500.1 776.7,491.1 777.7,494.0 778.7,498.7 779.5,502.1 780.2,505.4 781.0,508.8 782.0,508.6 783.0,507.5 784.0,502.7 785.1,498.7 786.0,495.1 786.8,491.1 787.8,496.5 788.8,503.7 789.8,511.3 790.8,503.1 791.9,493.6 792.8,486.9 793.6,478.5 794.4,468.4 795.2,458.3 796.0,457.0 796.9,457.5 797.7,455.8 798.5,458.7 799.4,464.4 800.2,469.6 801.0,460.0 801.9,449.9 802.7,439.3 803.5,441.0 804.2,442.9 805.0,446.9 806.0,450.6 807.0,452.0 807.8,448.3 808.7,443.7 809.5,440.6 810.4,436.8 811.3,433.0 812.3,427.4 813.3,418.3 814.3,414.1 815.3,419.4 816.4,422.9 817.4,426.6 818.4,429.2 819.3,440.8 820.2,455.8 821.0,453.6 821.8,448.7 822.6,448.2 823.4,444.4 824.5,457.3 825.5,469.6 826.5,467.2 827.5,460.7 828.5,457.0 829.5,456.4 830.4,456.6 831.3,454.6 832.3,454.5 833.2,449.2 834.2,444.8 835.1,440.3 836.1,435.6 837.1,440.6 838.1,447.7 839.1,453.2 840.1,460.6 841.1,467.1 841.9,474.3 842.8,482.8 843.6,488.6 844.5,486.2 845.3,485.4 846.2,482.3 847.2,481.9 848.1,482.9 849.0,480.8 850.0,482.3 850.8,483.7 851.7,484.7 852.5,486.1 853.5,481.9 854.5,478.5 855.5,479.7 856.5,481.6 857.5,483.5 858.3,483.8 859.2,483.5 860.0,486.1 861.0,484.7 861.9,483.8 862.8,482.8 863.8,482.3 864.6,482.7 865.5,484.7 866.3,486.1 867.1,484.6 868.0,481.6 868.8,479.7 869.7,469.9 870.6,460.8 871.6,457.5 872.6,452.0 873.6,457.2 874.6,460.8 875.5,456.5 876.4,450.7 877.7,448.7 878.7,453.2 879.7,455.8 880.6,480.1 881.5,505.0 882.7,487.3 883.6,488.5 884.4,490.7 885.3,491.1 886.1,491.1 887.0,491.9 887.8,492.4 888.8,496.5 889.8,500.2 890.8,503.7 891.8,499.1 892.8,494.9 893.7,496.5 894.5,496.4 895.4,497.4 896.2,493.8 897.1,489.9 897.9,484.8 898.9,486.6 899.9,487.9 900.9,488.6 901.7,487.7 902.5,487.6 903.4,488.1 904.2,488.6 905.2,487.4 906.1,486.7 907.0,482.9 908.0,482.3 908.8,488.0 909.7,492.6 910.5,498.7 911.3,496.0 912.2,494.3 913.0,492.4 914.0,493.0 914.9,492.6 915.8,493.3 916.8,492.4 917.6,492.3 918.5,494.5 919.3,495.2 920.1,495.2 921.1,494.7 922.1,494.5 923.1,493.6 923.9,491.6 924.7,489.6 925.4,488.6 926.2,487.3 927.0,483.3 927.8,482.7 928.6,476.5 929.4,473.4 930.3,470.5 931.1,465.2 932.0,460.8 932.9,459.1 933.7,457.0 934.6,454.7 935.4,450.5 936.3,448.2 937.3,452.7 938.3,455.8 939.1,454.4 940.0,451.2 940.8,450.7 941.6,452.4 942.5,453.7 943.3,454.5 944.2,453.0 945.2,452.0 946.1,448.5 947.1,446.9 947.9,447.3 948.8,447.5 949.6,446.2 950.4,446.9 951.3,454.8 952.2,460.8 953.0,460.1 953.9,460.6 954.7,462.1 955.5,456.6 956.4,449.4 957.2,444.4 958.0,444.3 958.9,443.1 959.7,444.5 960.5,444.4 961.5,446.4 962.5,450.5 963.5,453.2 964.4,450.3 965.2,450.2 966.1,448.2 966.9,450.5 967.8,453.3 968.6,455.8 969.4,456.1 970.3,456.7 971.1,457.0 971.9,460.6 972.8,464.2 973.6,470.9 974.5,462.1 975.3,452.5 976.2,444.4 977.0,441.1 977.9,438.9 978.7,435.6 979.5,435.2 980.4,437.5 981.2,439.3 982.0,436.7 982.9,434.3 983.7,433.0 984.6,435.4 985.4,437.1 986.3,439.3 987.1,436.1 988.0,433.5 988.8,431.8 989.8,432.4 990.8,431.3 991.8,431.8 992.8,427.8 993.8,422.9 994.7,424.5 995.5,423.9 996.4,426.7 997.2,423.3 998.1,421.6 998.9,419.1 999.9,413.2 1000.9,407.5 1001.9,400.7 1002.9,403.0 1003.9,404.0 1005.1,418.0 1006.1,423.9 1007.1,428.1 1008.1,427.4 1009.1,427.1 1010.1,426.8 1011.4,421.8 1012.2,424.5 1013.1,425.7 1013.9,428.1 1014.7,423.9 1015.6,416.7 1016.4,412.9 1017.3,421.0 1018.2,428.1 1019.0,429.2 1019.9,429.0 1020.7,432.6 1021.5,433.1 1022.5,432.7 1023.4,431.9 1024.3,430.4 1025.3,430.6 1026.2,430.6 1027.2,432.5 1028.1,430.9 1029.0,431.9 1029.9,428.3 1030.7,429.5 1031.6,429.3 1032.4,425.8 1033.3,424.2 1034.1,421.8 1034.9,421.8 1035.8,421.7 1036.6,422.0 1037.4,423.0 1038.4,425.1 1039.4,424.4 1040.4,426.8 1041.2,430.5 1042.1,430.6 1042.9,433.1 1043.8,433.9 1044.6,437.1 1045.5,438.2 1046.5,443.7 1047.5,448.3 1048.3,445.4 1049.2,444.7 1050.0,442.0 1050.9,434.8 1051.8,430.6 1052.8,426.1 1053.8,423.0 1054.8,424.3 1055.8,423.7 1056.8,424.3 1057.7,425.8 1058.6,429.3 1059.6,424.1 1060.6,418.0 1061.6,421.7 1062.6,423.8 1063.6,426.8 1064.4,425.1 1065.2,425.9 1066.1,426.2 1066.9,425.6 1067.7,421.6 1068.6,417.8 1069.4,411.7 1070.3,414.9 1071.1,418.0 1072.0,421.8 1073.0,422.4 1073.9,424.0 1074.8,422.9 1075.8,424.3 1076.6,426.2 1077.5,423.8 1078.3,426.8 1079.2,427.1 1080.2,425.7 1081.1,426.3 1082.1,425.6 1083.0,427.1 1084.0,426.5 1085.0,428.3 1085.9,429.3 1086.8,429.2 1087.8,429.2 1088.7,427.7 1089.6,428.1 1090.5,427.5 1091.3,427.0 1092.2,430.9 1093.0,428.9 1093.9,429.3 1095.0,437.4 1096.0,445.8 1096.8,444.6 1097.7,446.5 1098.5,445.8 1099.5,447.2 1100.5,449.5 1101.3,449.4 1102.2,447.7 1103.0,445.8 1103.9,444.1 1104.7,443.0 1105.6,440.7 1106.4,444.9 1107.3,450.8 1108.2,450.5 1109.2,450.3 1110.1,449.8 1111.1,450.8 1112.0,452.7 1113.0,454.5 1114.0,457.6 1114.9,458.4 1115.7,452.8 1116.6,451.9 1117.4,449.5 1118.4,449.1 1119.3,449.8 1120.2,450.8 1121.2,450.8 1122.2,452.8 1123.2,454.2 1124.2,455.9 1125.0,454.9 1125.8,455.0 1126.7,454.2 1127.5,453.3 1128.4,447.6 1129.2,444.7 1130.1,440.7 1130.9,443.0 1131.8,446.5 1132.6,450.8 1133.5,451.2 1134.5,451.4 1135.5,451.8 1136.4,452.0 1137.2,453.8 1138.1,456.9 1138.9,459.6 1139.7,458.0 1140.6,458.2 1141.4,457.1 1142.2,457.5 1143.0,458.3 1143.7,457.7 1144.5,456.6 1145.4,450.9 1146.3,446.5 1147.2,440.4 1148.1,435.1 1148.9,433.5 1149.8,433.7 1150.6,432.6 1151.4,434.2 1152.3,433.2 1153.1,432.6 1154.6,427.5 1155.5,427.6 1156.4,431.3 1157.3,426.5 1158.2,423.7 1159.2,422.1 1160.2,422.5 1160.7,401.0 1161.7,404.0 1162.7,406.1 1163.7,410.5 1164.7,414.9 1165.6,413.2 1166.5,411.1 1167.3,414.6 1168.2,414.6 1169.0,417.4 1169.9,411.1 1170.8,406.1 1171.6,406.8 1172.5,404.6 1173.3,403.5 1174.3,405.4 1175.4,408.6 1176.2,402.3 1177.1,398.1 1177.9,394.7 1178.9,387.0 1179.9,383.3 1180.8,379.6 1181.7,375.8 1182.6,376.4 1183.4,377.0 1184.9,390.9 1185.8,386.6 1186.7,380.8 1187.5,384.5 1188.4,387.8 1189.2,392.2 1190.1,392.2 1191.0,393.4 1192.0,388.6 1193.0,380.8 1194.0,382.5 1195.1,387.1 1195.9,380.9 1196.8,374.5 1197.6,378.3 1198.5,382.6 1199.3,385.9 1200.2,381.1 1201.1,377.0 1202.1,383.1 1203.1,388.4 1204.0,388.6 1204.8,387.4 1205.7,387.1 1206.7,367.8 1207.7,349.2 1208.6,353.5 1209.4,358.1 1210.3,355.6 1211.1,354.5 1212.0,353.0 1212.8,357.8 1213.7,363.1 1214.6,364.5 1215.4,366.7 1216.3,366.9 1217.3,378.7 1218.3,388.4 1219.1,386.8 1220.0,386.3 1220.8,384.6 1221.6,383.1 1222.5,381.8 1223.3,379.5 1224.2,380.2 1225.2,381.0 1226.1,381.1 1227.1,382.1 1228.0,375.8 1228.9,370.7 1229.7,368.0 1230.6,365.0 1231.4,360.6 1232.4,353.6 1233.4,345.5 1234.5,337.0 1235.5,327.8 1236.5,321.0 1237.6,313.8 1238.4,310.9 1239.3,308.8 1240.3,311.2 1241.4,316.4 1242.2,304.3 1243.1,291.1 1244.2,282.4 1245.2,273.4 1246.0,269.6 1246.9,265.9 1247.7,263.3 1248.7,247.9 1249.7,230.5 1250.6,222.8 1251.5,217.9 1252.5,216.8 1253.5,212.8 1254.5,198.9 1256.0,212.8 1256.9,228.5 1257.8,243.1 1259.0,255.8 1260.3,292.4 1261.6,258.3 1262.4,269.0 1263.3,276.0 1264.3,264.0 1265.4,253.2 1266.4,254.5 1267.4,255.8 1268.2,249.0 1269.1,243.1 1270.0,260.9 1270.9,278.5 1271.7,276.6 1272.6,274.5 1273.4,273.4 1274.5,256.6 1275.5,238.1 1276.3,243.4 1277.2,249.5 1278.0,255.8 1279.2,296.2 1280.5,306.3 1281.5,308.6 1282.5,310.0 1283.4,301.4 1284.3,293.6 1285.1,291.6 1286.0,290.6 1286.8,288.6 1287.6,287.5 1288.5,285.9 1289.3,286.1 1290.2,291.1 1291.1,296.2 1292.1,301.1 1293.1,306.3 1294.0,303.9 1294.8,297.8 1295.7,294.9 1296.5,301.1 1297.4,305.2 1298.2,311.3 1299.0,313.1 1299.9,315.2 1300.7,317.6 1301.5,318.7 1302.4,320.0 1303.2,320.2 1304.2,313.3 1305.3,303.7 1306.2,299.4 1307.0,296.2 1308.3,229.2 1309.3,232.2 1310.3,233.0 1311.1,228.6 1312.0,223.3 1312.8,217.4 1313.7,220.7 1314.5,226.0 1315.4,229.2 1316.2,227.9 1317.1,227.0 1317.9,225.5 1318.7,223.4 1319.4,222.3 1320.2,219.9 1321.2,229.9 1322.2,238.1 1323.0,245.7 1323.9,251.4 1324.7,258.3 1325.5,255.9 1326.3,253.2 1327.2,248.1 1328.0,245.7 1328.8,250.2 1329.7,251.4 1330.5,255.8 1331.3,256.6 1332.2,257.1 1333.0,257.0 1333.9,265.1 1334.8,270.9 1335.6,269.0 1336.5,266.3 1337.3,264.6 1338.1,264.8 1339.0,265.3 1339.8,267.1 1340.8,282.3 1341.9,296.2 1342.8,305.5 1343.6,315.1 1344.7,307.6 1345.7,301.2 1346.5,299.5 1347.4,296.4 1348.2,294.9 1349.0,283.2 1349.7,271.8 1350.5,260.8 1351.5,262.1 1352.5,260.8 1353.3,260.1 1354.2,257.0 1355.0,255.3 1356.0,260.6 1357.0,268.4 1357.9,280.0 1358.8,291.1 1359.6,286.5 1360.5,282.1 1361.3,277.2 1362.3,283.4 1363.3,288.6 1364.6,316.9 1365.7,368.1 1366.6,372.3 1367.5,377.1 1369.0,343.6 1369.9,349.9 1370.8,354.8 1371.6,347.1 1372.4,338.0"/><g font-family='"Liberation Sans", sans-serif' font-size="13" fill="#3a3a3a"><circle cx="61.4" cy="28.3" r="4.6" fill="#4fae74"/><text x="70.8" y="32.8">Futures Perpetual Funding Rate V2 - All Exchanges</text><circle cx="410.2" cy="28.3" r="4.6" fill="#de3a2e"/><text x="419.6" y="32.8">Futures Perpetual Funding Rate V2 - All Exchanges</text><circle cx="759.8" cy="28.3" r="4.6" fill="#333"/><text x="769.3" y="32.8">Price [USD]</text></g><g font-family='"Liberation Sans", sans-serif' font-size="14" fill="#555" text-anchor="end"><text x="85.6" y="122.2">0.16%</text><text x="85.6" y="287.2">0%</text><text x="85.6" y="452.2">-0.16%</text><text x="85.6" y="617.2">-0.32%</text></g><g font-family='"Liberation Sans", sans-serif' font-size="15" fill="#555"><text x="1393" y="122.4">$4.8k</text><text x="1393" y="287.4">$3.2k</text><text x="1393" y="452.4">$1.6k</text><text x="1393" y="617.4">$0</text></g><g font-family='"Liberation Sans", sans-serif' font-size="15" fill="#4f5561" text-anchor="middle"><text x="224.2" y="653">Jul '20</text><text x="364.1" y="653">Jan '21</text><text x="503.0" y="653">Jul '21</text><text x="643.2" y="653">Jan '22</text><text x="782.4" y="653">Jul '22</text><text x="922.1" y="653">Jan '23</text><text x="1061.0" y="653">Jul '23</text><text x="1200.8" y="653">Jan '24</text><text x="1339.6" y="653">Jul '24</text></g></svg>
</body></html>
